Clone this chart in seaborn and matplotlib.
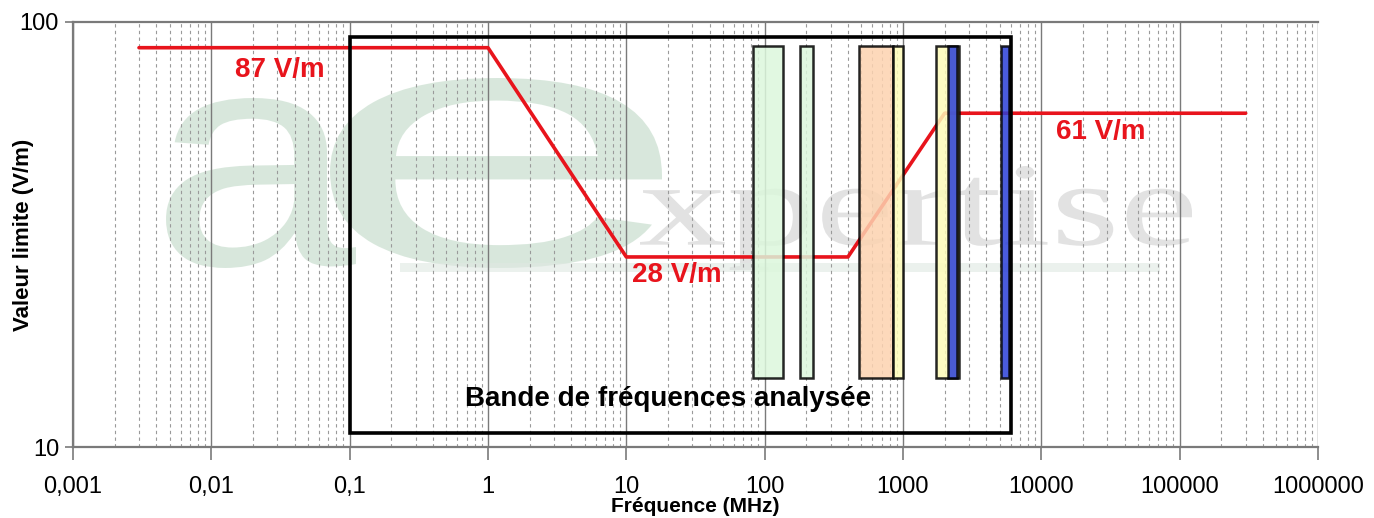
import numpy as np
import pandas as pd
import matplotlib
matplotlib.use("Agg")
import matplotlib.pyplot as plt
import seaborn as sns
from matplotlib.patches import Rectangle, PathPatch
from matplotlib.textpath import TextPath
from matplotlib.font_manager import FontProperties
from matplotlib.transforms import Affine2D, IdentityTransform
from matplotlib.ticker import LogLocator, NullFormatter, FixedLocator

# limit curve (ICNIRP style reference levels)
freq = [0.003, 1, 10, 400, 2000, 300000]
limit = [87, 87, 28, 28, 61, 61]

# analysed band and the service bands inside it
analysed_band = [0.1, 6000]
analysed_range = [10.8, 92]
band_lo = [82, 180, 480, 850, 1720, 2100, 5150]
band_hi = [135, 222, 850, 1000, 2550, 2450, 5850]
band_colors = ["#dcf7dc", "#dcf7dc", "#fdd3b0", "#fdfbb8", "#fdfbb8", "#2a3fd8", "#2a3fd8"]
band_range = [14.5, 88]

# value labels
label_text = ["87 V/m", "28 V/m", "61 V/m"]
label_x = [0.0148, 11, 12800]
label_y = [77, 25.4, 55]

xticks = [0.001, 0.01, 0.1, 1, 10, 100, 1000, 10000, 100000, 1000000]
xtick_labels = ["0,001", "0,01", "0,1", "1", "10", "100", "1000", "10000", "100000", "1000000"]

sns.set_style("white")
plt.rcParams["font.family"] = ["Liberation Sans", "DejaVu Sans"]
plt.rcParams["text.color"] = "black"
plt.rcParams["axes.labelcolor"] = "black"
plt.rcParams["xtick.color"] = "black"
plt.rcParams["ytick.color"] = "black"

W, H = 1374, 518
fig = plt.figure(figsize=(W / 100, H / 100), dpi=100)
ax = fig.add_axes([73 / W, 71 / H, 1245 / W, 425 / H])

ax.set_xscale("log")
ax.set_yscale("log")
ax.set_xlim(0.001, 1000000)
ax.set_ylim(10, 100)


# watermark, stretched glyphs placed in image pixels (top-left origin)
def stamp(s, box, color, family, alpha, weight="normal"):
    tp = TextPath((0, 0), s, size=100, prop=FontProperties(family=family, weight=weight))
    ext = tp.get_extents()
    x0, y0, x1, y1 = box
    tr = (Affine2D().translate(-ext.x0, -ext.y0)
          .scale((x1 - x0) / ext.width, (y1 - y0) / ext.height)
          .translate(x0, H - y1))
    p = PathPatch(tr.transform_path(tp), fc=color, ec="none", alpha=alpha,
                  transform=IdentityTransform(), zorder=0.2, clip_on=False)
    ax.add_patch(p)


stamp("a", (166, 98, 356, 268), "#cfe2d4", "Liberation Sans", 0.8)
stamp("e", (330, 78, 662, 268), "#cfe2d4", "Liberation Sans", 0.8)
stamp("xpertise", (640, 166, 1192, 270), "#d6d6d6", "Liberation Serif", 0.7)
ax.add_patch(Rectangle((400, H - 272), 760, 9, fc="#dfe8e2", ec="none", alpha=0.6,
                       transform=IdentityTransform(), zorder=0.2, clip_on=False))

# grid
ax.set_axisbelow(True)
ax.xaxis.set_major_locator(FixedLocator(xticks))
ax.xaxis.set_minor_locator(LogLocator(base=10, subs=np.arange(2, 10)))
ax.xaxis.set_minor_formatter(NullFormatter())
ax.grid(True, which="major", axis="x", color="#7a7a7a", lw=1.0, ls="-")
ax.grid(True, which="minor", axis="x", color="#9a9a9a", lw=0.8, ls=(0, (3, 3)))
ax.grid(False, axis="y", which="both")

# red limit curve
df = pd.DataFrame({"freq": freq, "limit": limit})
sns.lineplot(data=df, x="freq", y="limit", color="#e8141c", lw=2.6, ax=ax,
             sort=False, zorder=3)

# analysed frequency band
ax.add_patch(Rectangle((analysed_band[0], analysed_range[0]),
                       analysed_band[1] - analysed_band[0],
                       analysed_range[1] - analysed_range[0],
                       fill=False, ec="black", lw=2.6, zorder=4))

# service bands
for lo, hi, c in zip(band_lo, band_hi, band_colors):
    ax.add_patch(Rectangle((lo, band_range[0]), hi - lo, band_range[1] - band_range[0],
                           fc=c, ec="black", lw=1.8, alpha=0.85, zorder=5))

for t, x, y in zip(label_text, label_x, label_y):
    ax.text(x, y, t, color="#e8141c", fontsize=20, fontweight="bold", va="center", zorder=6)

ax.text(20, 13.0, "Bande de fréquences analysée", fontsize=20, fontweight="bold",
        ha="center", va="center", zorder=6)

ax.set_xticks(xticks)
ax.set_xticklabels(xtick_labels, fontsize=17)
ax.set_yticks([10, 100])
ax.set_yticklabels(["10", "100"], fontsize=17)
ax.yaxis.set_minor_locator(FixedLocator([]))
ax.tick_params(axis="x", which="major", direction="out", length=9, width=1.2,
               color="#7a7a7a", pad=12, bottom=True)
ax.tick_params(axis="x", which="minor", length=0)
ax.tick_params(axis="y", which="major", direction="out", length=6, width=1.2,
               color="#7a7a7a", pad=4, left=True)

ax.set_xlabel("Fréquence (MHz)", fontsize=15, fontweight="bold")
ax.set_ylabel("Valeur limite (V/m)", fontsize=16, fontweight="bold")
ax.xaxis.set_label_coords(0.5, -0.118)
ax.yaxis.set_label_coords(-0.031, 0.5)

for side in ["left", "bottom", "top"]:
    ax.spines[side].set_color("#7a7a7a")
    ax.spines[side].set_linewidth(1.6)
ax.spines["right"].set_visible(False)

fig.savefig("out.png", dpi=100)
